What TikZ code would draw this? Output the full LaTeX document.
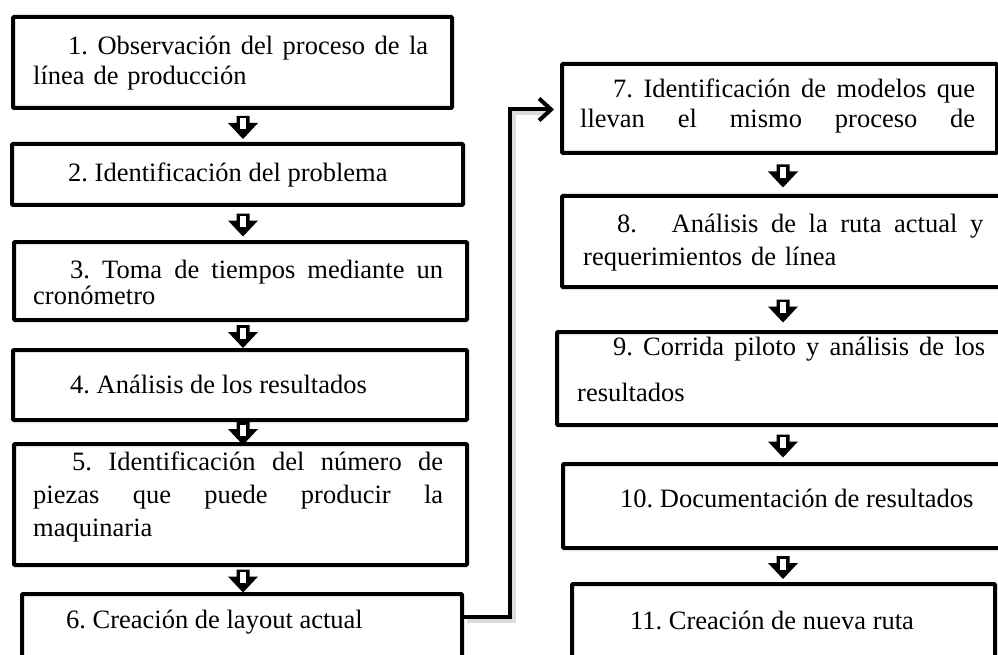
\documentclass[tikz,border=0pt]{standalone}
\usepackage{fontspec}
\setmainfont{Liberation Serif}
\usetikzlibrary{calc,arrows.meta}
\newcommand{\jl}[2]{\makebox[#1][s]{\spaceskip=.25em plus 3em minus .05em\xspaceskip=\spaceskip\relax #2}}
\tikzset{
  box/.style={draw=black, line width=4pt, rectangle, rounded corners=1pt, inner sep=0pt, anchor=north west},
  txt/.style={inner sep=0pt, anchor=base west, align=left, font=\fontsize{26.5pt}{32pt}\selectfont\frenchspacing},
  conn/.style={line width=4pt},
  connshadow/.style={line width=5pt, draw=black, opacity=0.14},
  downarr/.pic={
    \fill[black] (-6.5,-11.5) -- (6.5,-11.5) -- (6.5,-4.5) -- (15,-4.5) -- (0,11.5) -- (-15,-4.5) -- (-6.5,-4.5) -- cycle;
    \fill[white] (-2.75,-9) rectangle (2.75,2);
  }
}
\begin{document}
\begin{tikzpicture}[x=1pt,y=-1pt]
\useasboundingbox (0,0) rectangle (998,655);
\clip (0,0) rectangle (998,655);
\fill[white] (0,0) rectangle (998,655);
\coordinate (colL) at (243,0);
\coordinate (colR) at (783,0);
% boxes
\node[box, minimum width=439pt, minimum height=91pt] (b1) at (11,15) {};
\node[box, minimum width=451pt, minimum height=61pt] (b2) at (10,142) {};
\node[box, minimum width=453pt, minimum height=78pt] (b3) at (12,240) {};
\node[box, minimum width=454pt, minimum height=70pt] (b4) at (11,348) {};
\node[box, minimum width=453pt, minimum height=121pt] (b5) at (12,442) {};
\node[box, minimum width=440pt, minimum height=116pt] (b6) at (20,592) {};
\node[box, minimum width=435pt, minimum height=89pt] (b7) at (560,62) {};
\node[box, minimum width=448pt, minimum height=91pt] (b8) at (560,194) {};
\node[box, minimum width=453pt, minimum height=93pt] (b9) at (555,330) {};
\node[box, minimum width=447pt, minimum height=84pt] (b10) at (561,462) {};
\node[box, minimum width=423pt, minimum height=116pt] (b11) at (570,582) {};
% texts
\node[txt, text width=395pt] (t1) at ($(b1.north west)+(22,40)$)
  {\jl{395pt}{\hspace*{35pt}1. Observación del proceso de la}\\[-2pt]línea de producción};
\node[txt] (t2) at ($(b2.north west)+(58,40)$) {2. Identificación del problema};
\node[txt, text width=410pt] (t3) at ($(b3.north west)+(21,38)$)
  {\jl{410pt}{\hspace*{37pt}3. Toma de tiempos mediante un}\\[-6pt]cronómetro};
\node[txt] (t4) at ($(b4.north west)+(59,45)$) {4. Análisis de los resultados};
\node[txt, text width=410pt] (t5) at ($(b5.north west)+(21,28)$)
  {\jl{410pt}{\hspace*{39pt}5. Identificación del número de}\\[1pt]\jl{410pt}{piezas que puede producir la}\\[1pt]maquinaria};
\node[txt] (t6) at ($(b6.north west)+(46,36)$) {6. Creación de layout actual};
\node[txt, text width=395pt] (t7) at ($(b7.north west)+(20,36)$)
  {\jl{395pt}{\hspace*{33pt}7. Identificación de modelos que}\\[-2pt]\jl{395pt}{llevan el mismo proceso de}};
\node[txt, text width=400pt] (t8) at ($(b8.north west)+(23,38)$)
  {\jl{400pt}{\hspace*{34pt}8.\hspace*{22pt} Análisis de la ruta actual y}\\[1pt]requerimientos de línea};
\node[txt, text width=408pt] (t9) at ($(b9.north west)+(22,25)$)
  {\jl{408pt}{\hspace*{36pt}9. Corrida piloto y análisis de los}\\[14pt]resultados};
\node[txt] (t10) at ($(b10.north west)+(59,45)$) {10. Documentación de resultados};
\node[txt] (t11) at ($(b11.north west)+(60,47)$) {11. Creación de nueva ruta};
% block arrows
\pic at ($(b1.south -| colL)!0.5!(b2.north -| colL)+(0,1.5)$) {downarr};
\pic at ($(b2.south -| colL)!0.5!(b3.north -| colL)+(0,1.5)$) {downarr};
\pic at ($(b3.south -| colL)!0.5!(b4.north -| colL)+(0,1.5)$) {downarr};
\pic at ($(b4.south -| colL)!0.5!(b5.north -| colL)+(0,1.5)$) {downarr};
\pic at ($(b5.south -| colL)!0.5!(b6.north -| colL)+(0,1.5)$) {downarr};
\pic at ($(b7.south -| colR)!0.5!(b8.north -| colR)+(0,1.5)$) {downarr};
\pic at ($(b8.south -| colR)!0.5!(b9.north -| colR)+(0,1.5)$) {downarr};
\pic at ($(b9.south -| colR)!0.5!(b10.north -| colR)+(0,1.5)$) {downarr};
\pic at ($(b10.south -| colR)!0.5!(b11.north -| colR)+(0,1.5)$) {downarr};
% connector 6 -> 7
\coordinate (c6) at ($(b6.north east)+(0,25)$);
\coordinate (k) at ($(b7.west)+(-50,1)$);
\draw[connshadow] ($(c6)+(3,3)$) -| ($(k)+(3,3)$) -- ($(b7.west)+(-14,4)$);
\draw[conn, -{Straight Barb[length=12pt,width=22pt]}, shorten >=6pt] (c6) -| (k) -- (k -| b7.west);
\end{tikzpicture}
\end{document}
